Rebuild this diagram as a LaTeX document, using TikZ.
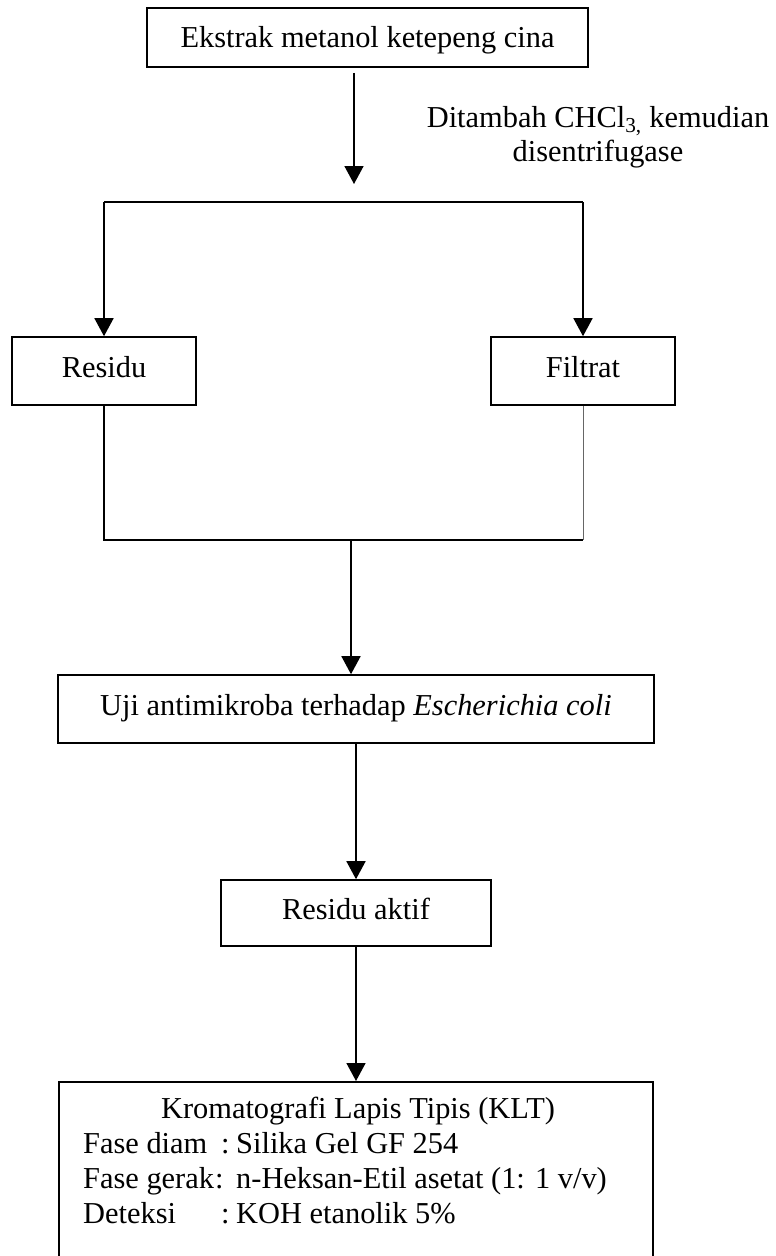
\documentclass[tikz,border=0pt]{standalone}
\usepackage{fontspec}
\setmainfont{Liberation Serif}
\usetikzlibrary{arrows.meta}

\tikzset{
  txt/.style={inner sep=0pt, font=\fontsize{30.4}{34}\selectfont},
  stepbox/.style={draw, line width=1.6pt, inner sep=0pt, txt,
    text height=20pt, text depth=8pt},
  link/.style={line width=1.6pt},
  arr/.style={link, -{Triangle[width=19pt,length=18pt]}},
}

\begin{document}
\begin{tikzpicture}[x=1pt, y=-1pt]
  \fill[white] (0,0) rectangle (776,1256);
  \useasboundingbox (0,0) rectangle (776,1256);

  % process boxes
  \node[stepbox, minimum width=441pt, minimum height=59pt, text depth=0pt]
    (ekstrak) at (367.5,37.5) {Ekstrak metanol ketepeng cina};
  \node[stepbox, minimum width=184pt, minimum height=68pt]
    (residu) at (104,371) {Residu};
  \node[stepbox, minimum width=184pt, minimum height=68pt]
    (filtrat) at (583,371) {Filtrat};
  \node[stepbox, minimum width=596pt, minimum height=68pt]
    (uji) at (356,709) {Uji antimikroba terhadap \textit{Escherichia coli}};
  \node[stepbox, minimum width=270pt, minimum height=66pt]
    (aktif) at (356,913) {Residu aktif};
  \node[draw, line width=1.6pt, inner sep=0pt, minimum width=594pt,
    minimum height=200pt, anchor=north] (klt) at (356,1081) {};

  % treatment note beside the first arrow
  \node[txt, anchor=base] (note1) at (598,127)
    {Ditambah CHCl\textsubscript{3,} kemudian};
  \node[txt, anchor=base] (note2) at (598,161) {disentrifugase};

  % TLC conditions
  \node[txt, anchor=base] (kltt) at (358,1118) {Kromatografi Lapis Tipis (KLT)};
  \node[txt, anchor=base west] (fd) at (83,1153) {Fase diam};
  \node[txt, anchor=base west] (fdc) at (221,1153) {:};
  \node[txt, anchor=base west] (fdv) at (236,1153) {Silika Gel GF 254};
  \node[txt, anchor=base west] (fg) at (83,1188) {Fase gerak};
  \node[txt, anchor=base west] (fgc) at (215,1188) {:};
  \node[txt, anchor=base west] (fgv) at (236,1188) {n-Heksan-Etil asetat (1: 1 v/v)};
  \node[txt, anchor=base west] (dt) at (83,1223) {Deteksi};
  \node[txt, anchor=base west] (dtc) at (221,1223) {:};
  \node[txt, anchor=base west] (dtv) at (236,1223) {KOH etanolik 5\%};

  % fork after centrifugation
  \coordinate (fork) at (354,202);
  \draw[arr] ([yshift=-5pt]ekstrak.south -| fork) -- ([yshift=18pt]fork);
  \draw[link] (residu.north |- fork) -- (filtrat.north |- fork);
  \draw[arr] (residu.north |- fork) -- (residu.north);
  \draw[arr] (filtrat.north |- fork) -- (filtrat.north);

  % both fractions go to the antimicrobial test
  \coordinate (join) at (351,540);
  \draw[link] (residu.south) -- (residu.south |- join) -- (filtrat.south |- join);
  \draw[line width=0.8pt, black!60] (filtrat.south) -- (filtrat.south |- join);
  \draw[arr] (join) -- (join |- uji.north);

  \draw[arr] (aktif.north |- uji.south) -- (aktif.north);
  \draw[arr] (aktif.south) -- (aktif.south |- klt.north);
\end{tikzpicture}
\end{document}
